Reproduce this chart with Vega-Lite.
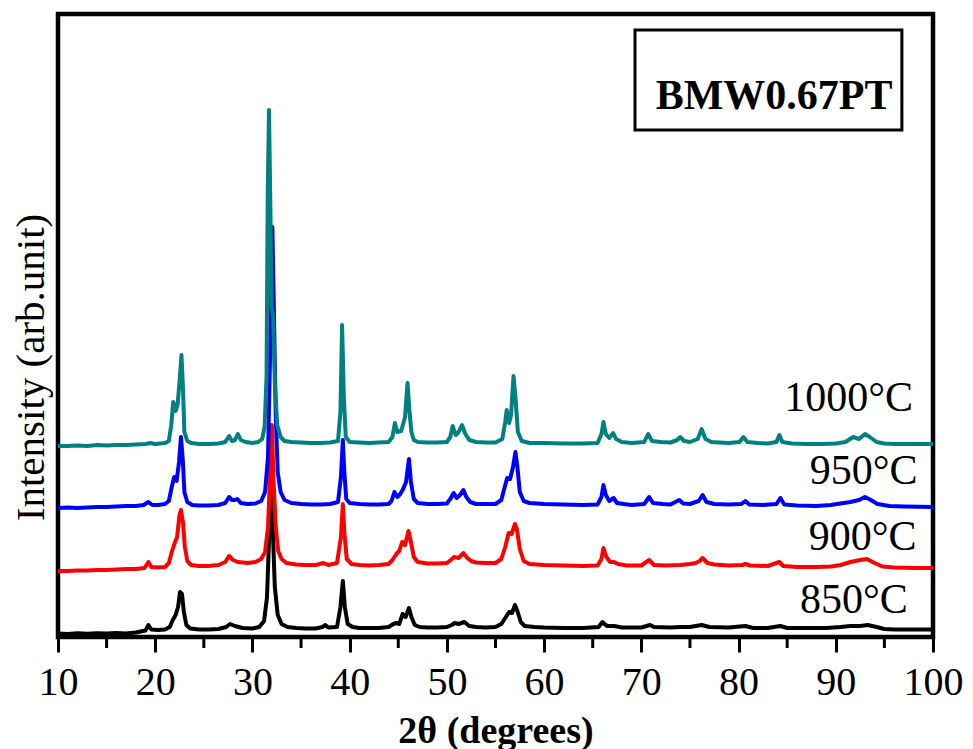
{
"$schema": "https://vega.github.io/schema/vega-lite/v6.json",
"width": 875, "height": 623,
"autosize": {"type": "none"},
"padding": {"left": 58, "top": 14, "right": 40, "bottom": 112},
"background": "white",
"config": {"view": {"stroke": "black", "strokeWidth": 4.5}, "font": "Liberation Serif"},
"resolve": {"axis": {"x": "independent", "y": "independent"}},
"datasets": {
"a850": [{"x":10,"y":3.5},{"x":11,"y":3},{"x":12,"y":3.8},{"x":13,"y":3.2},{"x":14,"y":3.8},{"x":15,"y":3.4},{"x":16,"y":4},{"x":17,"y":3.6},{"x":18,"y":4.5},{"x":18.5,"y":5.5},{"x":19,"y":6.5},{"x":19.3,"y":12},{"x":19.6,"y":7.5},{"x":20.3,"y":7},{"x":21,"y":7.5},{"x":21.5,"y":10},{"x":21.8,"y":17},{"x":22.1,"y":22},{"x":22.35,"y":30},{"x":22.55,"y":45},{"x":22.75,"y":43},{"x":22.95,"y":25},{"x":23.2,"y":12},{"x":23.6,"y":8.5},{"x":24.5,"y":7.5},{"x":25.5,"y":7.5},{"x":26.5,"y":8},{"x":27.3,"y":10},{"x":27.7,"y":13},{"x":28.2,"y":11},{"x":29,"y":9},{"x":30,"y":8.5},{"x":30.7,"y":10},{"x":31.2,"y":16},{"x":31.5,"y":40},{"x":31.75,"y":110},{"x":31.9,"y":158},{"x":32.05,"y":120},{"x":32.3,"y":50},{"x":32.6,"y":22},{"x":33,"y":13},{"x":33.6,"y":10},{"x":34.5,"y":9},{"x":35.5,"y":8.5},{"x":36.5,"y":8.5},{"x":37.2,"y":10},{"x":37.5,"y":12},{"x":37.8,"y":9.5},{"x":38.7,"y":10},{"x":39.05,"y":30},{"x":39.3,"y":56},{"x":39.5,"y":30},{"x":39.8,"y":13},{"x":40.3,"y":10},{"x":41,"y":9},{"x":42,"y":9},{"x":43,"y":9},{"x":44,"y":10},{"x":44.5,"y":13},{"x":44.8,"y":14},{"x":45.1,"y":13},{"x":45.45,"y":23},{"x":45.75,"y":20},{"x":46.1,"y":29},{"x":46.35,"y":20},{"x":46.7,"y":12},{"x":47.2,"y":10},{"x":48,"y":9.5},{"x":49,"y":9.5},{"x":50,"y":10},{"x":50.5,"y":12},{"x":50.8,"y":14},{"x":51.2,"y":13},{"x":51.8,"y":15},{"x":52.3,"y":11},{"x":53,"y":10},{"x":54,"y":9.5},{"x":55,"y":10},{"x":55.6,"y":13},{"x":56,"y":19},{"x":56.4,"y":25},{"x":56.7,"y":24},{"x":57,"y":32},{"x":57.25,"y":26},{"x":57.6,"y":15},{"x":58,"y":11},{"x":59,"y":10},{"x":60,"y":9.5},{"x":62,"y":9},{"x":64,"y":9},{"x":65.6,"y":10},{"x":66,"y":15},{"x":66.2,"y":13},{"x":66.5,"y":11},{"x":67.2,"y":11},{"x":68,"y":9.5},{"x":70,"y":9.5},{"x":70.9,"y":12},{"x":71.3,"y":10},{"x":73,"y":9.5},{"x":74,"y":10},{"x":75,"y":10},{"x":76.2,"y":12},{"x":77,"y":10},{"x":79,"y":9.5},{"x":80.7,"y":11},{"x":81.5,"y":9},{"x":83,"y":9},{"x":84.3,"y":11},{"x":85,"y":9},{"x":87,"y":9},{"x":89,"y":9},{"x":90.5,"y":10},{"x":91.5,"y":11},{"x":92.5,"y":11},{"x":93.3,"y":12},{"x":94.2,"y":10},{"x":95,"y":8},{"x":96,"y":7.5},{"x":98,"y":7.5},{"x":100,"y":7.5}],
"a900": [{"x":10,"y":66},{"x":11,"y":66},{"x":12,"y":66.5},{"x":13,"y":66.5},{"x":14,"y":67},{"x":15,"y":67},{"x":16,"y":67.5},{"x":17,"y":68},{"x":18,"y":68},{"x":18.9,"y":69},{"x":19.3,"y":75},{"x":19.6,"y":70},{"x":20.3,"y":69.5},{"x":21,"y":70},{"x":21.4,"y":74},{"x":21.7,"y":85},{"x":22,"y":94},{"x":22.25,"y":100},{"x":22.5,"y":122},{"x":22.65,"y":127},{"x":22.85,"y":115},{"x":23.05,"y":90},{"x":23.3,"y":76},{"x":23.7,"y":72},{"x":24.5,"y":71},{"x":25.5,"y":71},{"x":26.5,"y":72},{"x":27.2,"y":75},{"x":27.6,"y":81},{"x":28,"y":77},{"x":28.5,"y":75},{"x":29.5,"y":74},{"x":30.3,"y":75},{"x":30.9,"y":78},{"x":31.3,"y":85},{"x":31.6,"y":110},{"x":31.85,"y":170},{"x":32,"y":212},{"x":32.15,"y":160},{"x":32.4,"y":110},{"x":32.65,"y":86},{"x":33,"y":78},{"x":33.5,"y":74},{"x":34.5,"y":72.5},{"x":35.5,"y":72},{"x":36.5,"y":72},{"x":37.3,"y":74},{"x":37.8,"y":72},{"x":38.7,"y":74},{"x":39.1,"y":100},{"x":39.3,"y":133},{"x":39.45,"y":105},{"x":39.7,"y":78},{"x":40.2,"y":73},{"x":41,"y":72},{"x":42,"y":71.5},{"x":43,"y":72},{"x":44,"y":73},{"x":44.4,"y":77},{"x":44.8,"y":83},{"x":45.1,"y":86},{"x":45.4,"y":95},{"x":45.7,"y":92},{"x":46.05,"y":106},{"x":46.3,"y":95},{"x":46.6,"y":80},{"x":47,"y":75},{"x":48,"y":73.5},{"x":49,"y":73.5},{"x":50,"y":74},{"x":50.4,"y":77},{"x":50.75,"y":80},{"x":51.2,"y":79},{"x":51.7,"y":84},{"x":52.1,"y":79},{"x":52.5,"y":76},{"x":53,"y":74.5},{"x":54,"y":74},{"x":55,"y":74},{"x":55.6,"y":78},{"x":56,"y":90},{"x":56.35,"y":104},{"x":56.65,"y":103},{"x":57,"y":113},{"x":57.2,"y":108},{"x":57.5,"y":88},{"x":57.9,"y":76},{"x":58.5,"y":73},{"x":60,"y":72},{"x":62,"y":71.5},{"x":64,"y":71},{"x":65.5,"y":71.5},{"x":65.9,"y":78},{"x":66.1,"y":89},{"x":66.4,"y":80},{"x":66.8,"y":75},{"x":67.2,"y":75},{"x":67.6,"y":73},{"x":68.5,"y":71.5},{"x":70,"y":71.5},{"x":70.8,"y":77},{"x":71.3,"y":72},{"x":72.5,"y":71.5},{"x":74,"y":72},{"x":75,"y":73},{"x":75.6,"y":74},{"x":76,"y":76},{"x":76.3,"y":79},{"x":76.8,"y":74},{"x":77.5,"y":72.5},{"x":79,"y":71.5},{"x":80.4,"y":72},{"x":80.7,"y":73},{"x":81.2,"y":71.5},{"x":83,"y":71},{"x":84.2,"y":75},{"x":84.6,"y":71},{"x":86,"y":70},{"x":88,"y":70},{"x":89.5,"y":70.5},{"x":90.5,"y":72},{"x":91.5,"y":75},{"x":92.5,"y":77},{"x":93.2,"y":78},{"x":94,"y":74},{"x":94.8,"y":70.5},{"x":96,"y":69.5},{"x":98,"y":69},{"x":100,"y":69}],
"a950": [{"x":10,"y":129},{"x":11,"y":129.5},{"x":12,"y":129},{"x":13,"y":129.5},{"x":14,"y":130},{"x":15,"y":130},{"x":16,"y":130.5},{"x":17,"y":131},{"x":18,"y":131},{"x":18.8,"y":132},{"x":19.3,"y":135},{"x":19.7,"y":132},{"x":20.3,"y":132},{"x":21,"y":133},{"x":21.4,"y":136},{"x":21.7,"y":150},{"x":21.95,"y":160},{"x":22.2,"y":156},{"x":22.45,"y":175},{"x":22.65,"y":200},{"x":22.85,"y":175},{"x":23,"y":145},{"x":23.3,"y":135},{"x":23.8,"y":132},{"x":24.5,"y":131.5},{"x":25.5,"y":131.5},{"x":26.5,"y":132},{"x":27.2,"y":134},{"x":27.6,"y":140},{"x":27.9,"y":137},{"x":28.2,"y":137},{"x":28.45,"y":138},{"x":28.8,"y":134},{"x":29.5,"y":133},{"x":30.3,"y":133.5},{"x":30.9,"y":136},{"x":31.3,"y":145},{"x":31.6,"y":180},{"x":31.85,"y":300},{"x":32.05,"y":410},{"x":32.2,"y":330},{"x":32.4,"y":220},{"x":32.6,"y":165},{"x":32.9,"y":145},{"x":33.3,"y":137},{"x":34,"y":134},{"x":35,"y":133},{"x":36,"y":132.5},{"x":37,"y":132.5},{"x":38,"y":133},{"x":38.8,"y":135},{"x":39.1,"y":160},{"x":39.3,"y":197},{"x":39.45,"y":165},{"x":39.65,"y":138},{"x":40,"y":134},{"x":41,"y":133},{"x":42,"y":132.5},{"x":43,"y":132.5},{"x":44,"y":133},{"x":44.3,"y":136},{"x":44.6,"y":145},{"x":44.9,"y":140},{"x":45.2,"y":143},{"x":45.5,"y":148},{"x":45.8,"y":155},{"x":46.1,"y":178},{"x":46.3,"y":155},{"x":46.6,"y":138},{"x":47,"y":134},{"x":48,"y":133},{"x":49,"y":133},{"x":50,"y":133.5},{"x":50.35,"y":138},{"x":50.7,"y":144},{"x":51,"y":139},{"x":51.35,"y":142},{"x":51.7,"y":147},{"x":52,"y":140},{"x":52.4,"y":135},{"x":53,"y":133},{"x":54,"y":133},{"x":55,"y":133},{"x":55.6,"y":137},{"x":55.95,"y":150},{"x":56.2,"y":159},{"x":56.5,"y":158},{"x":56.8,"y":170},{"x":57.05,"y":185},{"x":57.25,"y":170},{"x":57.5,"y":145},{"x":57.9,"y":136},{"x":58.5,"y":134},{"x":60,"y":133},{"x":62,"y":132.5},{"x":64,"y":132},{"x":65.5,"y":132.5},{"x":65.9,"y":140},{"x":66.1,"y":152},{"x":66.35,"y":142},{"x":66.7,"y":136},{"x":67.15,"y":139},{"x":67.5,"y":134},{"x":68.2,"y":133},{"x":69,"y":132},{"x":70.3,"y":133},{"x":70.8,"y":140},{"x":71.2,"y":134},{"x":72.2,"y":133},{"x":73,"y":132.5},{"x":73.9,"y":137},{"x":74.3,"y":133.5},{"x":75,"y":133},{"x":75.9,"y":136},{"x":76.3,"y":142},{"x":76.7,"y":135},{"x":77.5,"y":133},{"x":79,"y":132.5},{"x":80.3,"y":133},{"x":80.7,"y":136},{"x":81.1,"y":132.5},{"x":82.5,"y":132},{"x":83.9,"y":133},{"x":84.3,"y":139},{"x":84.7,"y":132.5},{"x":86,"y":131.5},{"x":88,"y":131},{"x":89.5,"y":132},{"x":90.8,"y":134},{"x":91.5,"y":135},{"x":92.4,"y":137},{"x":93,"y":140},{"x":93.6,"y":137},{"x":94.3,"y":133},{"x":95.5,"y":131},{"x":97,"y":130.5},{"x":100,"y":130}],
"a1000": [{"x":10,"y":191},{"x":11,"y":191},{"x":12,"y":191.5},{"x":13,"y":191},{"x":14,"y":192},{"x":15,"y":191.5},{"x":16,"y":192},{"x":17,"y":192},{"x":18,"y":192.5},{"x":19,"y":193},{"x":19.5,"y":194},{"x":20,"y":193},{"x":20.5,"y":193.5},{"x":21,"y":194},{"x":21.4,"y":196},{"x":21.65,"y":212},{"x":21.85,"y":235},{"x":22.1,"y":226},{"x":22.3,"y":232},{"x":22.5,"y":255},{"x":22.7,"y":282},{"x":22.85,"y":250},{"x":23,"y":205},{"x":23.3,"y":196},{"x":23.7,"y":194},{"x":24.5,"y":193},{"x":25.5,"y":193},{"x":26.5,"y":193.5},{"x":27.2,"y":195},{"x":27.6,"y":201},{"x":27.9,"y":196},{"x":28.2,"y":197},{"x":28.5,"y":203},{"x":28.8,"y":197},{"x":29.3,"y":195},{"x":30,"y":194},{"x":30.6,"y":195},{"x":31,"y":198},{"x":31.25,"y":210},{"x":31.45,"y":260},{"x":31.57,"y":440},{"x":31.7,"y":527},{"x":31.83,"y":440},{"x":31.97,"y":330},{"x":32.12,"y":322},{"x":32.3,"y":255},{"x":32.55,"y":212},{"x":32.9,"y":200},{"x":33.3,"y":196},{"x":34,"y":195},{"x":35,"y":194.5},{"x":36,"y":194},{"x":37,"y":194},{"x":38,"y":194.5},{"x":38.8,"y":196},{"x":39.05,"y":225},{"x":39.22,"y":312},{"x":39.4,"y":240},{"x":39.6,"y":200},{"x":40,"y":195},{"x":41,"y":194.5},{"x":42,"y":194},{"x":43,"y":194.5},{"x":44,"y":195},{"x":44.4,"y":200},{"x":44.65,"y":214},{"x":44.9,"y":205},{"x":45.3,"y":206},{"x":45.7,"y":220},{"x":45.95,"y":254},{"x":46.15,"y":226},{"x":46.35,"y":205},{"x":46.6,"y":197},{"x":47,"y":195},{"x":48,"y":194.5},{"x":49,"y":194.5},{"x":50,"y":195},{"x":50.35,"y":200},{"x":50.6,"y":211},{"x":50.9,"y":202},{"x":51.2,"y":205},{"x":51.55,"y":212},{"x":51.9,"y":203},{"x":52.3,"y":197},{"x":53,"y":195},{"x":54,"y":194.5},{"x":55,"y":194.5},{"x":55.7,"y":198},{"x":56,"y":215},{"x":56.15,"y":227},{"x":56.4,"y":214},{"x":56.6,"y":222},{"x":56.85,"y":261},{"x":57.05,"y":240},{"x":57.3,"y":205},{"x":57.7,"y":196},{"x":58.5,"y":194},{"x":60,"y":194},{"x":62,"y":193.5},{"x":64,"y":193.5},{"x":65.5,"y":194},{"x":65.9,"y":203},{"x":66.1,"y":215},{"x":66.35,"y":203},{"x":66.7,"y":199},{"x":67.1,"y":204},{"x":67.4,"y":198},{"x":68,"y":195},{"x":69,"y":194},{"x":70.3,"y":195},{"x":70.7,"y":203},{"x":71.1,"y":196},{"x":72,"y":195},{"x":73,"y":194.5},{"x":73.7,"y":197},{"x":74,"y":200},{"x":74.4,"y":196},{"x":75,"y":195},{"x":75.8,"y":198},{"x":76.2,"y":208},{"x":76.6,"y":198},{"x":77.2,"y":195},{"x":78,"y":194.5},{"x":79,"y":194},{"x":80.1,"y":195},{"x":80.5,"y":200},{"x":80.9,"y":195},{"x":82,"y":194},{"x":83,"y":193.5},{"x":83.9,"y":195},{"x":84.2,"y":202},{"x":84.5,"y":195},{"x":85.5,"y":193.5},{"x":87,"y":193},{"x":88.5,"y":193},{"x":90,"y":193.5},{"x":91,"y":195},{"x":91.8,"y":200},{"x":92.4,"y":198},{"x":93,"y":203},{"x":93.5,"y":200},{"x":94.2,"y":195},{"x":95,"y":193.5},{"x":96,"y":193},{"x":98,"y":193},{"x":100,"y":193}],
"minor": [{"x":15},{"x":25},{"x":35},{"x":45},{"x":55},{"x":65},{"x":75},{"x":85},{"x":95}],
"labels": [{"x":97.95,"y":239,"t":"1000°C"},{"x":98.4,"y":166,"t":"950°C"},{"x":98.3,"y":100,"t":"900°C"},{"x":97.4,"y":37,"t":"850°C"}],
"box": [{"x":69.35,"x2":96.8,"y":607,"y2":507,"xc":83.65,"yc":541,"t":"BMW0.67PT"}]
},
"layer": [
{"data": {"name": "a850"},
 "mark": {"type": "line", "color": "#000000", "strokeWidth": 4, "strokeJoin": "round"},
 "encoding": {
  "x": {"field": "x", "type": "quantitative", "scale": {"domain": [10, 100], "nice": false, "zero": false},
   "axis": {"orient": "bottom", "values": [10,20,30,40,50,60,70,80,90,100], "tickSize": 15, "tickWidth": 3, "tickColor": "black", "domain": false, "grid": false,
    "labelFont": "Liberation Serif", "labelFontSize": 40, "labelColor": "black", "labelPadding": 10, "labelFlush": false, "labelOverlap": false,
    "title": "2θ (degrees)", "titleFont": "Liberation Serif", "titleFontSize": 38, "titleFontWeight": "bold", "titleColor": "black", "titlePadding": 10}},
  "y": {"field": "y", "type": "quantitative", "scale": {"domain": [0, 623], "nice": false, "zero": false},
   "axis": {"orient": "left", "domain": false, "ticks": false, "labels": false, "grid": false,
    "title": "Intensity (arb.unit)", "titleFont": "Liberation Serif", "titleFontSize": 41, "titleFontWeight": "normal", "titleColor": "black", "titlePadding": 6, "titleY": 353}}
 }},
{"data": {"name": "a900"},
 "mark": {"type": "line", "color": "#ff0000", "strokeWidth": 4, "strokeJoin": "round"},
 "encoding": {
  "x": {"field": "x", "type": "quantitative", "axis": null},
  "y": {"field": "y", "type": "quantitative", "axis": null}
 }},
{"data": {"name": "a950"},
 "mark": {"type": "line", "color": "#0000ff", "strokeWidth": 4, "strokeJoin": "round"},
 "encoding": {
  "x": {"field": "x", "type": "quantitative", "axis": null},
  "y": {"field": "y", "type": "quantitative", "axis": null}
 }},
{"data": {"name": "a1000"},
 "mark": {"type": "line", "color": "#008080", "strokeWidth": 4, "strokeJoin": "round"},
 "encoding": {
  "x": {"field": "x", "type": "quantitative", "axis": null},
  "y": {"field": "y", "type": "quantitative", "axis": null}
 }},
{"data": {"name": "minor"},
 "mark": {"type": "rule", "color": "black", "strokeWidth": 3, "clip": false},
 "encoding": {
  "x": {"field": "x", "type": "quantitative", "axis": null},
  "y": {"datum": 0, "type": "quantitative", "axis": null},
  "y2": {"datum": -11}
 }},
{"data": {"name": "labels"},
 "mark": {"type": "text", "align": "right", "baseline": "middle", "font": "Liberation Serif", "fontSize": 42, "color": "black"},
 "encoding": {
  "x": {"field": "x", "type": "quantitative", "axis": null},
  "y": {"field": "y", "type": "quantitative", "axis": null},
  "text": {"field": "t"}
 }},
{"data": {"name": "box"},
 "mark": {"type": "rect", "fill": "white", "stroke": "black", "strokeWidth": 3},
 "encoding": {
  "x": {"field": "x", "type": "quantitative", "axis": null},
  "x2": {"field": "x2"},
  "y": {"field": "y", "type": "quantitative", "axis": null},
  "y2": {"field": "y2"}
 }},
{"data": {"name": "box"},
 "mark": {"type": "text", "align": "center", "baseline": "middle", "font": "Liberation Serif", "fontSize": 42, "fontWeight": "bold", "color": "black"},
 "encoding": {
  "x": {"field": "xc", "type": "quantitative", "axis": null},
  "y": {"field": "yc", "type": "quantitative", "axis": null},
  "text": {"field": "t"}
 }}
]
}
